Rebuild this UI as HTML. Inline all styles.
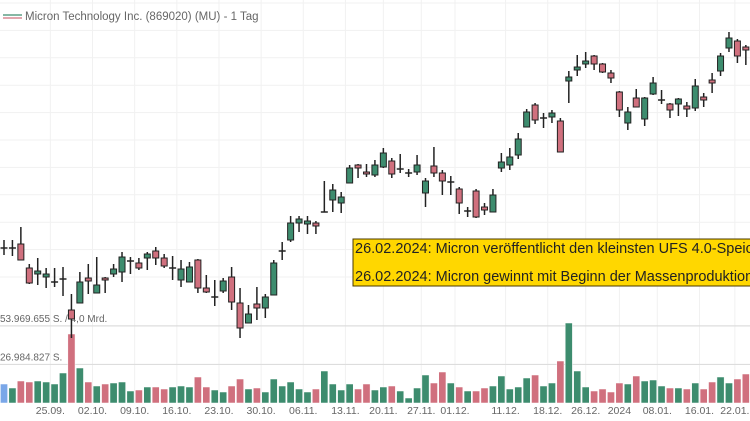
<!DOCTYPE html>
<html><head><meta charset="utf-8"><style>
body{margin:0;background:#fff;}
svg{display:block;font-family:"Liberation Sans",sans-serif;}
</style></head><body>
<svg id="chart" width="750" height="421" xmlns="http://www.w3.org/2000/svg">
<g id="grid"></g>
<g id="vol"></g>
<g id="candles"></g>
<g id="xaxis"></g>
<g>
<line x1="3" y1="15" x2="22" y2="15" stroke="#3d8c6e" stroke-width="1.2"/>
<line x1="3" y1="18" x2="22" y2="18" stroke="#d0707e" stroke-width="1.2"/>
<text x="25" y="20" font-size="11.5" fill="#666">Micron Technology Inc. (869020) (MU) - 1 Tag</text>
</g>
<g>
<rect x="353" y="239" width="400" height="47" fill="#ffd700" stroke="#4a3a00" stroke-width="1"/>
<text x="355" y="253" font-size="14.5" fill="#222">26.02.2024: Micron veröffentlicht den kleinsten UFS 4.0-Speicher</text>
<text x="355" y="281" font-size="14.5" fill="#222">26.02.2024: Micron gewinnt mit Beginn der Massenproduktion</text>
</g>
</svg>
<script>
const opens=[68.2,68.2,68.6,66.2,65.6,65.3,64.8,65.1,62.0,62.7,65.2,63.7,65.2,65.6,65.8,66.9,66.7,67.2,67.9,67.2,66.2,65.0,64.8,67.0,64.2,63.3,63.9,65.3,62.7,60.7,62.6,62.2,63.5,67.9,69.0,70.7,70.6,70.7,71.8,73.0,72.7,74.7,76.5,75.8,75.5,76.3,76.9,76.1,75.7,75.8,73.7,76.4,75.7,74.8,74.1,71.9,73.9,72.3,71.8,76.2,76.5,77.5,80.3,82.5,81.2,81.3,80.9,84.9,86.0,86.6,87.4,86.6,85.7,83.8,80.7,83.2,81.1,83.6,83.0,82.6,82.6,82.4,82.2,83.3,85.0,85.9,88.2,88.9,88.3];
const highs=[69.0,69.0,70.3,66.6,67.2,66.2,66.2,66.3,63.6,65.8,66.6,67.3,65.3,66.6,67.8,67.3,67.2,67.8,68.3,67.6,67.4,67.0,66.8,67.1,65.5,65.0,65.2,66.3,64.2,62.5,64.3,63.6,67.0,68.8,71.4,71.4,71.4,70.9,74.9,74.6,73.8,76.5,76.6,76.6,77.0,78.2,77.2,77.6,76.1,77.5,75.2,78.3,76.0,75.4,74.3,72.3,74.1,72.7,74.1,77.7,78.2,79.7,82.1,82.7,81.7,82.0,81.2,85.9,87.5,87.8,87.5,86.7,86.0,83.9,82.3,84.1,83.3,85.3,84.0,82.7,83.2,82.8,85.1,83.7,85.7,87.7,89.8,89.1,88.5];
const lows=[67.5,67.4,67.0,64.6,64.5,64.2,64.3,63.4,59.2,62.7,63.6,63.7,63.7,65.3,64.8,65.6,66.0,66.0,66.5,66.2,65.0,64.3,64.8,63.7,63.7,62.4,63.7,62.0,59.2,60.7,61.0,61.2,63.5,67.0,68.8,69.8,69.6,69.6,71.8,71.8,71.7,74.7,75.2,75.3,75.3,76.2,75.2,75.7,75.3,75.5,72.3,75.3,73.5,73.5,71.6,71.3,71.2,71.5,71.8,75.8,76.0,77.1,80.3,80.6,80.2,80.7,77.8,82.7,85.4,86.2,86.0,85.7,84.7,81.3,80.0,82.3,80.4,83.5,82.6,81.2,81.4,81.3,81.9,82.3,83.7,85.4,87.8,86.7,86.5];
const closes=[68.2,68.2,67.0,64.7,65.9,65.6,64.8,65.1,61.1,64.8,64.9,64.5,65.0,66.1,67.3,66.9,66.2,67.6,67.2,66.4,66.2,66.1,66.3,64.2,63.8,63.3,64.9,62.8,60.2,61.6,62.2,63.3,66.7,67.9,70.7,71.1,70.9,70.4,71.8,74.0,73.3,76.2,76.2,75.6,76.5,77.7,75.6,76.1,75.7,76.5,74.9,75.7,74.9,74.8,72.7,71.9,71.3,72.0,73.5,76.8,77.3,79.1,81.8,81.0,81.2,81.7,77.8,85.3,86.3,86.9,86.6,85.8,85.2,82.0,81.8,82.3,83.2,84.7,83.0,82.0,83.1,82.1,84.4,83.0,84.7,87.4,89.2,87.4,88.0];
const volumes=[13.3,10.5,15.4,14.7,15.4,14.7,13.3,21,48.3,24.5,14.7,11.9,13.3,14,14.7,8.4,9.1,11.2,11.2,9.8,11.2,11.9,11.2,18.2,11.2,9.1,7.7,11.9,16.8,9.8,10.5,7.7,16.8,11.9,14.7,9.8,7.7,9.8,22.4,13.3,9.1,13.3,9.8,13.3,9.1,11.2,11.9,8.4,3.5,10.5,19.6,14,21.7,14,11.2,8.4,8.4,10.5,11.9,18.9,9.8,11.2,17.5,19.6,11.9,14,29.4,56,22.4,11.2,8.4,9.8,7.7,14,13.3,18.9,15.4,16.1,11.9,10.5,10.5,9.8,14,9.8,14.7,18.2,14,16.8,20.3];
const dateLabels=["25.09.","02.10.","09.10.","16.10.","23.10.","30.10.","06.11.","13.11.","20.11.","27.11.","01.12.","11.12.","18.12.","26.12.","2024","08.01.","16.01.","22.01."];
const dateIdx=[5.5,10.5,15.5,20.5,25.5,30.5,35.5,40.5,45,49.5,53.5,59.5,64.5,69,73,77.5,82.5,86.7];
const volLabels=["26.984.827 S.","53.969.655 S. / 4,0 Mrd."];
const volLabelVals=[26.98,53.97];

const NS="http://www.w3.org/2000/svg";
const xS=i=>4+8.43*i;
const yS=p=>(93-p)*10;
const vS=v=>403-v/0.7;
const GREEN="#3d8c6e",RED="#d0707e",EDGE="#222";
function mk(t,a,parent){const e=document.createElementNS(NS,t);for(const k in a)e.setAttribute(k,a[k]);parent.appendChild(e);return e;}
const grid=document.getElementById('grid'),vol=document.getElementById('vol'),cg=document.getElementById('candles'),xa=document.getElementById('xaxis');
for(let k=0;k<11;k++){const y=3+27.4*k;
const l=mk('line',{x1:0,x2:750,y1:y,y2:y,stroke:'#f1f1f1','stroke-width':1},grid);

}
dateIdx.forEach((d,k)=>{const x=xS(d);
const l=mk('line',{x1:x,x2:x,y1:0,y2:403,stroke:'#f1f1f1','stroke-width':1},grid);


const t=mk('text',{x:x,y:414,'font-size':10.5,fill:'#666','text-anchor':'middle'},xa);
t.textContent=dateLabels[k];

});
volLabelVals.forEach((v,k)=>{const y=vS(v);
const l=mk('line',{x1:0,x2:750,y1:y,y2:y,stroke:'#ddd','stroke-width':1.2},grid);


const t=mk('text',{x:0,y:y-4,'font-size':10,fill:'#666'},grid);
t.textContent=volLabels[k];

});
volumes.forEach((v,i)=>{const up=closes[i]>=opens[i];const x=xS(i);
const r=mk('rect',{x:x-3.6,y:vS(v),width:7.2,height:403-vS(v),fill:i===0?'#7aa7e8':(up?GREEN:RED),stroke:'#fff','stroke-width':0.5},vol);

});
opens.forEach((o,i)=>{const c=closes[i],x=xS(i);const up=c>=o;
const w=mk('line',{x1:x,x2:x,y1:yS(highs[i]),y2:yS(lows[i]),stroke:EDGE,'stroke-width':1.5},cg);


const top=yS(Math.max(o,c)),bot=yS(Math.min(o,c));
if(bot-top<1.5){const d=mk('line',{x1:x-3.5,x2:x+3.5,y1:top,y2:top,stroke:EDGE,'stroke-width':1.5},cg);

}
else{const b=mk('rect',{x:x-3,y:top,width:6,height:bot-top,fill:up?GREEN:RED,stroke:EDGE,'stroke-width':1},cg);

}});
</script>
</body></html>
